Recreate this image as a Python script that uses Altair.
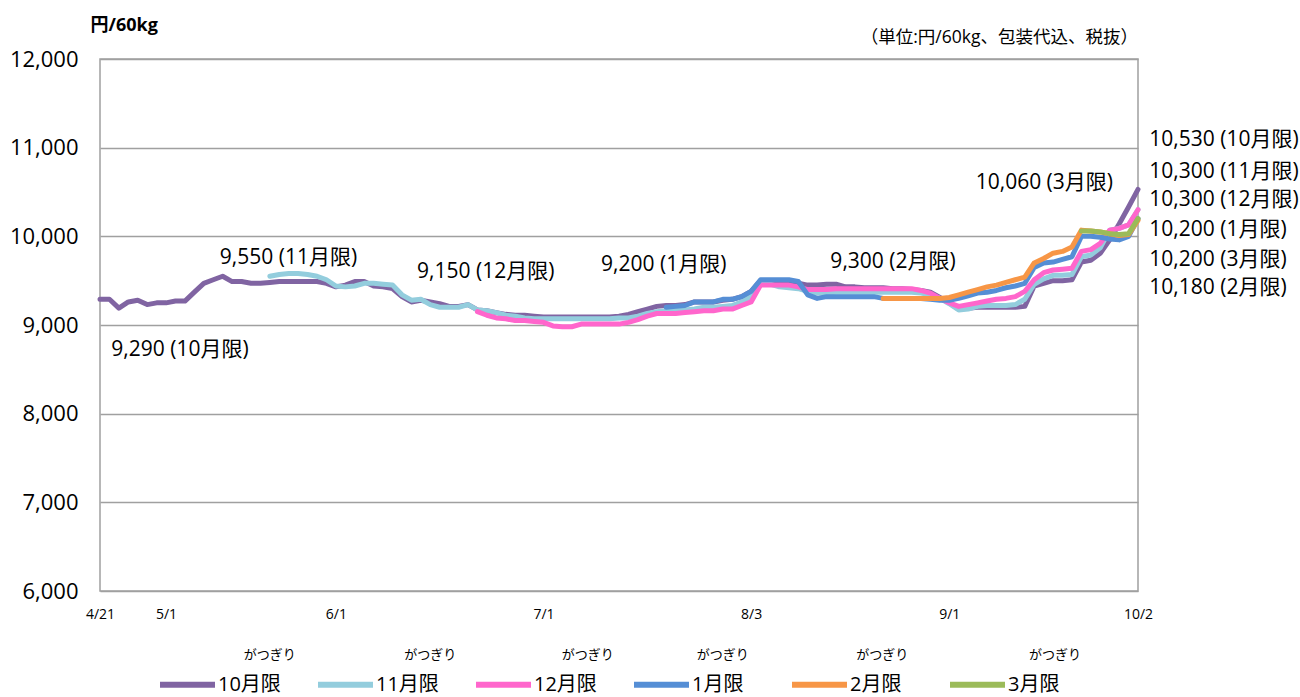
import altair as alt
import pandas as pd

# Dojima rice futures, daily settlement (yen / 60kg), by contract month.
# Day index counts trading days from 4/21.
SERIES = ["10月限", "11月限", "12月限", "1月限", "2月限", "3月限"]
COLORS = ["#8064A2", "#93CDDD", "#FF66CC", "#558ED5", "#F79646", "#9BBB59"]

START_10 = 0
PRICE_10 = [
    9290, 9290, 9190, 9260, 9280, 9230, 9250, 9250, 9270, 9270,
    9370, 9470, 9510, 9550, 9490, 9490, 9470, 9470, 9480, 9490,
    9490, 9490, 9490, 9490, 9470, 9430, 9450, 9490, 9490, 9440,
    9430, 9410, 9320, 9260, 9280, 9260, 9240, 9210, 9210, 9230,
    9170, 9160, 9140, 9120, 9110, 9110, 9100, 9090, 9090, 9090,
    9090, 9090, 9090, 9090, 9090, 9100, 9120, 9150, 9180, 9210,
    9220, 9220, 9230, 9260, 9260, 9260, 9280, 9290, 9320, 9380,
    9500, 9500, 9500, 9490, 9470, 9450, 9450, 9460, 9460, 9430,
    9430, 9420, 9420, 9420, 9410, 9410, 9400, 9390, 9370, 9310,
    9250, 9180, 9190, 9200, 9200, 9200, 9200, 9200, 9210, 9440,
    9470, 9500, 9500, 9510, 9710, 9730, 9810, 9960, 10140, 10330,
    10530,
]

START_11 = 18
PRICE_11 = [
    9550, 9570, 9580, 9580, 9570, 9550, 9510, 9440, 9430, 9440,
    9470, 9470, 9460, 9450, 9340, 9280, 9290, 9230, 9200, 9200,
    9200, 9230, 9170, 9160, 9140, 9110, 9100, 9080, 9070, 9070,
    9070, 9070, 9070, 9070, 9070, 9070, 9070, 9080, 9080, 9100,
    9130, 9150, 9160, 9170, 9170, 9180, 9200, 9200, 9210, 9220,
    9260, 9320, 9470, 9460, 9430, 9420, 9410, 9380, 9360, 9360,
    9370, 9370, 9370, 9370, 9370, 9370, 9370, 9370, 9370, 9360,
    9340, 9300, 9240, 9170, 9180, 9210, 9220, 9220, 9220, 9230,
    9290, 9460, 9520, 9560, 9560, 9570, 9770, 9790, 9870, 10070,
    10090, 10130, 10300,
]

START_12 = 40
PRICE_12 = [
    9150, 9110, 9080, 9070, 9050, 9050, 9040, 9030, 8990, 8980,
    8980, 9010, 9010, 9010, 9010, 9010, 9030, 9060, 9100, 9130,
    9130, 9130, 9140, 9150, 9160, 9160, 9180, 9180, 9220, 9260,
    9450, 9450, 9450, 9450, 9430, 9400, 9400, 9400, 9410, 9410,
    9410, 9410, 9410, 9410, 9410, 9410, 9410, 9390, 9360, 9300,
    9250, 9210, 9230, 9250, 9270, 9290, 9300, 9320, 9380, 9510,
    9590, 9620, 9630, 9640, 9830, 9850, 9920, 10070, 10090, 10130,
    10300,
]

START_1 = 60
PRICE_1 = [
    9200, 9210, 9220, 9260, 9260, 9260, 9290, 9290, 9320, 9380,
    9510, 9510, 9510, 9510, 9490, 9340, 9300, 9320, 9320, 9320,
    9320, 9320, 9320, 9300, 9300, 9300, 9300, 9300, 9290, 9280,
    9280, 9300, 9330, 9360, 9370, 9390, 9420, 9440, 9470, 9650,
    9700, 9710, 9740, 9770, 10000, 10000, 9990, 9970, 9960, 10000,
    10200,
]

START_2 = 83
PRICE_2 = [
    9300, 9300, 9300, 9300, 9300, 9300, 9300, 9310, 9340, 9370,
    9400, 9430, 9450, 9480, 9510, 9540, 9700, 9750, 9810, 9830,
    9880, 10070, 10060, 10050, 10030, 10010, 10020, 10180,
]

START_3 = 104
PRICE_3 = [10060, 10060, 10050, 10030, 10020, 10030, 10200]

TICK_DAYS = [0, 7, 25, 47, 69, 90, 110]
TICK_LABELS = ["4/21", "5/1", "6/1", "7/1", "8/3", "9/1", "10/2"]
Y_TICKS = [6000, 7000, 8000, 9000, 10000, 11000, 12000]

STARTS = [START_10, START_11, START_12, START_1, START_2, START_3]
PRICES = [PRICE_10, PRICE_11, PRICE_12, PRICE_1, PRICE_2, PRICE_3]

FONT = "Open Sans, Noto Sans CJK JP"
JP_FONT = "Noto Sans CJK JP"

rows = []
for name, start, vals in zip(SERIES, STARTS, PRICES):
    for k, v in enumerate(vals):
        rows.append({"series": name, "day": start + k, "price": v})
df = pd.DataFrame(rows)

x_label_expr = " : ".join(
    f"datum.value == {d} ? '{t}'" for d, t in zip(TICK_DAYS, TICK_LABELS)
) + " : ''"

x_enc = alt.X(
    "day:Q",
    scale=alt.Scale(domain=[0, 110], nice=False, zero=False),
    axis=alt.Axis(
        values=TICK_DAYS, labelExpr=x_label_expr, grid=False, ticks=False,
        domain=False, labelFont=FONT, labelFontSize=14, labelColor="#000",
        labelPadding=16, labelBaseline="top", labelFlush=False, title=None,
    ),
)
y_enc = alt.Y(
    "price:Q",
    scale=alt.Scale(domain=[6000, 12000], nice=False, zero=False),
    axis=alt.Axis(
        values=Y_TICKS, labelExpr="format(datum.value, ',')", grid=True,
        gridColor="#A0A0A0", gridWidth=1.5, ticks=False, domain=False,
        labelFont=FONT, labelFontSize=22, labelColor="#000", labelPadding=22,
        title="円/60kg", titleAngle=0, titleAlign="left",
        titleBaseline="middle", titleX=-10, titleY=-34, titleFont=FONT,
        titleFontSize=18, titleFontWeight="bold", titleColor="#000",
    ),
)

lines = alt.Chart(df).mark_line(
    strokeWidth=5, strokeJoin="round", strokeCap="round"
).encode(
    x=x_enc,
    y=y_enc,
    color=alt.Color(
        "series:N",
        scale=alt.Scale(domain=SERIES, range=COLORS),
        legend=alt.Legend(
            title=None, orient="none", legendX=57, legendY=595,
            direction="horizontal", columns=6, gridAlign="all",
            symbolType="stroke", symbolStrokeWidth=6, symbolSize=3025,
            labelFont=FONT, labelFontSize=20, labelColor="#000",
            labelOffset=0, columnPadding=25, padding=0,
        ),
    ),
)

# value labels at the first quote of each contract
start_text = [f"{vals[0]:,} ({name})" for name, vals in zip(SERIES, PRICES)]
start_pos_day = [1.2, 12.7, 33.6, 53.1, 77.4, 92.8]
start_pos_price = [8718, 9756, 9601, 9677, 9714, 10605]
start_df = pd.DataFrame({"day": start_pos_day, "price": start_pos_price, "label": start_text})

# closing values listed beside the plot
END_ORDER = ["10月限", "11月限", "12月限", "1月限", "3月限", "2月限"]
last = {name: vals[-1] for name, vals in zip(SERIES, PRICES)}
end_text = [f"{last[n]:,} ({n})" for n in END_ORDER]
end_pos_price = [11086, 10729, 10410, 10071, 9733, 9414]
end_df = pd.DataFrame({"day": [111.2] * 6, "price": end_pos_price, "label": end_text})

text_style = dict(align="left", baseline="middle", font=FONT, fontSize=21, color="#000")
start_labels = alt.Chart(start_df).mark_text(**text_style).encode(
    x=x_enc, y=y_enc, text="label:N"
)
end_labels = alt.Chart(end_df).mark_text(**text_style).encode(
    x=x_enc, y=y_enc, text="label:N"
)

# reading of 月限, set above each legend entry
ruby_df = pd.DataFrame({
    "day": [18.0, 35.0, 51.7, 66.0, 82.9, 101.2],
    "price": [5278] * 6,
    "label": ["がつぎり"] * 6,
})
ruby = alt.Chart(ruby_df).mark_text(
    align="center", baseline="middle", font=JP_FONT, fontSize=13, color="#000"
).encode(x=x_enc, y=y_enc, text="label:N")

note_df = pd.DataFrame({"day": [110], "price": [12237], "label": ["（単位:円/60kg、包装代込、税抜）"]})
note = alt.Chart(note_df).mark_text(
    align="right", baseline="middle", font=FONT, fontSize=17.5, color="#000"
).encode(x=x_enc, y=y_enc, text="label:N")

chart = alt.layer(lines, start_labels, end_labels, ruby, note).properties(
    width=1038,
    height=532,
    autosize=alt.AutoSizeParams(type="none"),
    padding={"left": 100, "top": 59, "right": 162, "bottom": 106},
    background="#ffffff",
).configure_view(stroke="#A0A0A0", strokeWidth=1.5)

chart.save("out.html", embed_options={"renderer": "svg", "actions": False})
